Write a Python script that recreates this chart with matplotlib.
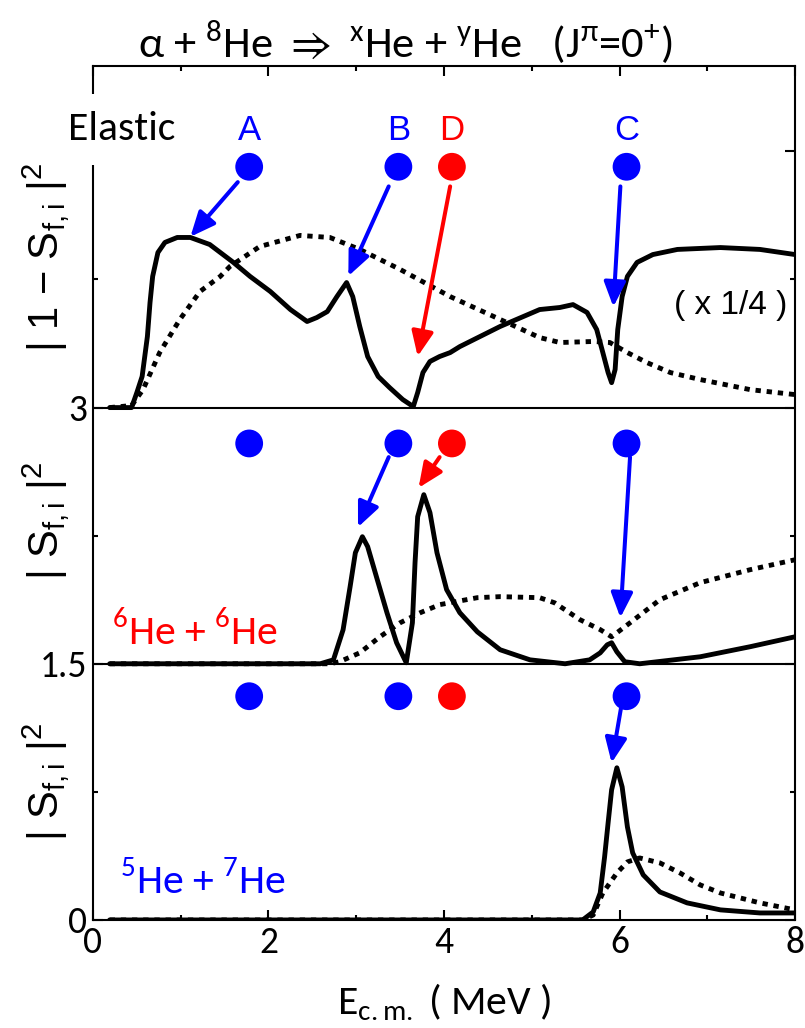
import numpy as np
import matplotlib
matplotlib.use("Agg")
import matplotlib.pyplot as plt

plt.rcParams["font.family"] = ["Liberation Sans", "DejaVu Sans"]
plt.rcParams["mathtext.fontset"] = "custom"
plt.rcParams["mathtext.rm"] = "Liberation Sans"
plt.rcParams["mathtext.it"] = "Liberation Sans:italic"
plt.rcParams["mathtext.bf"] = "Liberation Sans:bold"
plt.rcParams["mathtext.fallback"] = "stixsans"

CAL = ["Carlito", "DejaVu Sans"]
BLUE = "#0000ff"
RED = "#ff0000"

# elastic |1 - S|^2 (x 1/4), drawn on top of 3
el_x = [0.19, 0.44, 0.50, 0.56, 0.62, 0.65, 0.68, 0.74, 0.82, 0.96, 1.11, 1.33, 1.60, 1.79,
        2.02, 2.25, 2.44, 2.55, 2.67, 2.78, 2.89, 2.96, 3.04, 3.13, 3.25, 3.38, 3.53, 3.65,
        3.70, 3.76, 3.84, 3.95, 4.07, 4.18, 4.64, 5.09, 5.32, 5.47, 5.63, 5.74, 5.81, 5.87,
        5.91, 5.95, 5.98, 6.03, 6.09, 6.20, 6.38, 6.66, 7.15, 7.60, 8.00]
el_y = [0.0, 0.0, 0.088, 0.182, 0.416, 0.615, 0.768, 0.908, 0.967, 0.996, 0.996, 0.955, 0.85,
        0.768, 0.68, 0.574, 0.504, 0.527, 0.562, 0.65, 0.732, 0.65, 0.475, 0.299, 0.182, 0.117,
        0.047, 0.006, 0.088, 0.205, 0.27, 0.299, 0.322, 0.357, 0.475, 0.574, 0.586, 0.603,
        0.557, 0.457, 0.322, 0.205, 0.146, 0.223, 0.457, 0.65, 0.768, 0.85, 0.896, 0.926,
        0.937, 0.926, 0.896]
el_ref_x = [0.19, 0.44, 0.57, 0.76, 0.99, 1.22, 1.45, 1.56, 1.90, 2.36, 2.70, 3.04, 3.50,
            4.07, 4.64, 5.09, 5.32, 5.70, 5.89, 6.09, 6.31, 6.58, 6.92, 7.49, 8.00]
el_ref_y = [0.0, 0.012, 0.105, 0.322, 0.516, 0.68, 0.768, 0.826, 0.943, 1.008, 0.996, 0.926,
            0.809, 0.65, 0.516, 0.41, 0.381, 0.387, 0.381, 0.322, 0.264, 0.205, 0.164, 0.105,
            0.076]

# 6He + 6He, drawn on top of 1.5
he6_x = [0.19, 2.59, 2.74, 2.85, 2.93, 2.99, 3.07, 3.13, 3.24, 3.35, 3.46, 3.57, 3.64, 3.67,
         3.70, 3.77, 3.84, 3.92, 4.03, 4.18, 4.38, 4.64, 4.98, 5.38, 5.66, 5.78, 5.86, 5.91,
         5.97, 6.06, 6.23, 6.92, 7.49, 8.00]
he6_y = [0.0, 0.0, 0.023, 0.199, 0.451, 0.65, 0.744, 0.686, 0.492, 0.299, 0.123, 0.006, 0.24,
         0.592, 0.861, 0.99, 0.885, 0.65, 0.434, 0.299, 0.187, 0.082, 0.023, 0.0, 0.023, 0.064,
         0.111, 0.123, 0.07, 0.012, 0.0, 0.041, 0.1, 0.158]
he6_ref_x = [0.19, 2.70, 2.81, 3.04, 3.27, 3.50, 3.73, 3.95, 4.38, 4.64, 5.09, 5.26, 5.55,
             5.78, 5.91, 6.12, 6.46, 6.92, 7.49, 8.00]
he6_ref_y = [0.0, 0.0, 0.012, 0.064, 0.158, 0.24, 0.299, 0.346, 0.387, 0.393, 0.387, 0.357,
             0.258, 0.2, 0.158, 0.24, 0.375, 0.475, 0.551, 0.609]

# 5He + 7He
he5_x = [0.19, 5.58, 5.70, 5.78, 5.83, 5.87, 5.91, 5.97, 6.03, 6.09, 6.15, 6.27, 6.46, 6.77,
         7.15, 7.60, 8.00]
he5_y = [0.0, 0.0, 0.047, 0.158, 0.369, 0.568, 0.762, 0.891, 0.779, 0.545, 0.393, 0.264,
         0.164, 0.1, 0.059, 0.041, 0.041]
he5_ref_x = [0.19, 5.58, 5.70, 5.81, 5.97, 6.09, 6.23, 6.46, 6.69, 6.92, 7.15, 7.60, 8.00]
he5_ref_y = [0.0, 0.0, 0.029, 0.158, 0.275, 0.34, 0.363, 0.334, 0.275, 0.205, 0.158, 0.1, 0.059]

# resonance energies
res_names = ["A", "B", "D", "C"]
res_e = [1.78, 3.48, 4.09, 6.08]
res_colors = [BLUE, BLUE, RED, BLUE]

fig = plt.figure(figsize=(8.05, 10.28), dpi=100)
ax = fig.add_axes([0.1155, 0.1051, 0.8721, 0.8307])

lw = 3.5
dot = (0, (1.1, 1.2))
for off, (sx, sy, rx, ry) in zip(
        [3.0, 1.5, 0.0],
        [(el_x, el_y, el_ref_x, el_ref_y),
         (he6_x, he6_y, he6_ref_x, he6_ref_y),
         (he5_x, he5_y, he5_ref_x, he5_ref_y)]):
    ax.plot(rx, np.array(ry) + off, color="black", lw=lw, linestyle=dot,
            dash_capstyle="butt", zorder=3)
    ax.plot(sx, np.array(sy) + off, color="black", lw=lw, solid_capstyle="round",
            solid_joinstyle="round", zorder=4)

for y in [1.5, 3.0]:
    ax.axhline(y, color="black", lw=1.5, zorder=2)

# markers for the resonance positions in each panel
for row_y in [4.41, 2.79, 1.31]:
    ax.scatter(res_e, [row_y] * len(res_e), s=400, c=res_colors, zorder=5, linewidths=0)
for name, e, c in zip(res_names, res_e, res_colors):
    ax.text(e, 4.62, name, color=c, fontsize=25, ha="center", va="center")

# arrows from markers to the structures
arrows = [
    ((1.65, 4.32), (1.11, 4.00), BLUE),
    ((3.37, 4.295), (2.91, 3.77), BLUE),
    ((4.07, 4.295), (3.70, 3.30), RED),
    ((6.01, 4.295), (5.93, 3.59), BLUE),
    ((3.37, 2.71), (3.02, 2.30), BLUE),
    ((3.95, 2.71), (3.71, 2.53), RED),
    ((6.12, 2.71), (6.01, 1.77), BLUE),
    ((6.02, 1.25), (5.91, 0.92), BLUE),
]
for start, end, c in arrows:
    ax.annotate("", xy=end, xytext=start,
                arrowprops=dict(arrowstyle="-|>,head_length=0.5,head_width=0.22",
                                mutation_scale=30, color=c, lw=2.9,
                                shrinkA=0, shrinkB=0), zorder=6)

ax.text(-0.285, 4.63, "Elastic", fontsize=30, ha="left", va="center", zorder=10,
        family=CAL, bbox=dict(boxstyle="square,pad=0.42", fc="white", ec="none"),
        clip_on=False)
ax.text(7.27, 3.60, "( x 1/4 )", fontsize=24, ha="center", va="center")
ax.text(0.22, 1.69, r"$^{\mathdefault{6}}$He + $^{\mathdefault{6}}$He", fontsize=30,
        color=RED, ha="left", va="center", family=CAL)
ax.text(0.31, 0.235, r"$^{\mathdefault{5}}$He + $^{\mathdefault{7}}$He", fontsize=30,
        color=BLUE, ha="left", va="center", family=CAL,
        bbox=dict(boxstyle="square,pad=0.15", fc="white", ec="none"))

ylab = r"| S$_{\mathdefault{f,i}}$ |$^{\mathdefault{2}}$"
ylab_top = r"| 1 $-$ S$_{\mathdefault{f,i}}$ |$^{\mathdefault{2}}$"
for y, s in [(3.88, ylab_top), (2.34, ylab), (0.81, ylab)]:
    ax.text(-0.53, y, s, fontsize=30, rotation=90, ha="center", va="center",
            clip_on=False, zorder=11)

ax.set_xlim(0, 8)
ax.set_ylim(0, 5)
ax.set_xticks([0, 2, 4, 6, 8])
ax.set_xticks([1, 3, 5, 7], minor=True)
ax.set_yticks([0, 1.5, 3, 4.5])
ax.set_yticklabels(["0", "1.5", "3", ""])
ax.set_yticks([0.75, 2.25, 3.75], minor=True)
ax.tick_params(which="both", direction="in", top=True, right=True, width=1.5)
ax.tick_params(which="major", length=7, labelsize=27, pad=4)
ax.tick_params(which="minor", length=3.5)
for lab in ax.get_xticklabels() + ax.get_yticklabels():
    lab.set_family(CAL)
for sp in ax.spines.values():
    sp.set_linewidth(1.5)

ax.set_xlabel(r"E$_{\mathdefault{c.m.}}$ ( MeV )", fontsize=30, family=CAL, labelpad=16)

fig.text(0.503, 1 - 42 / 1028,
         r"α + $^{\mathdefault{8}}$He $\Rightarrow$ $^{\mathdefault{x}}$He + "
         r"$^{\mathdefault{y}}$He   (J$^{\mathdefault{π}}$=0$^{\mathdefault{+}}$)",
         fontsize=32, ha="center", va="center", family=CAL)

fig.savefig("out.png", dpi=100)
